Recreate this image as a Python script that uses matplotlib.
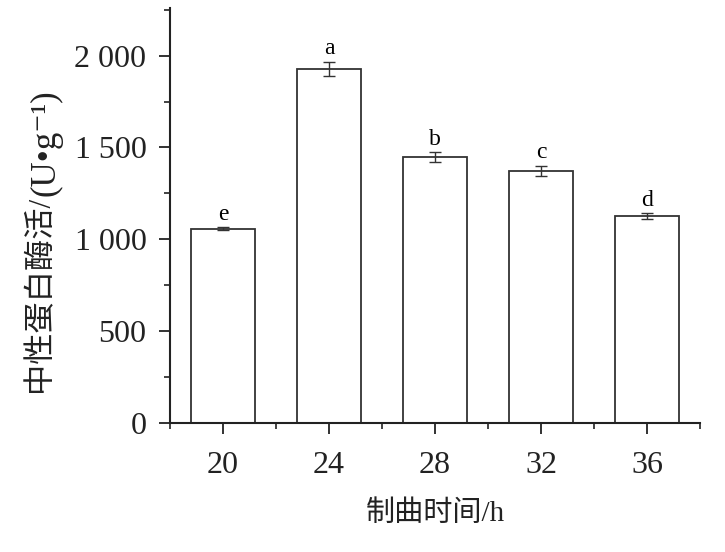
import matplotlib
matplotlib.use("Agg")
import matplotlib.pyplot as plt
from matplotlib.ticker import MultipleLocator, FuncFormatter

# data
hours = [20, 24, 28, 32, 36]
activity = [1058, 1928, 1449, 1373, 1127]
errors = [9, 40, 26, 28, 16]
letters = ["e", "a", "b", "c", "d"]

serif = ["Liberation Serif", "Noto Sans CJK SC", "DejaVu Sans"]
plt.rcParams["font.family"] = serif

fig = plt.figure(figsize=(7.25, 5.52), dpi=100)
ax = fig.add_axes([0.2345, 0.2337, 0.731, 0.752])

ax.bar(hours, activity, width=2.4, color="white", edgecolor="#333333",
       linewidth=1.3, zorder=2)
ax.errorbar(hours, activity, yerr=errors, fmt="none", ecolor="#333333",
            elinewidth=1.0, capsize=4, capthick=1.0, zorder=3)

for x, y, e, lab in zip(hours, activity, errors, letters):
    ax.text(x, y + e + 12, lab, ha="center", va="bottom", fontsize=17,
            family=serif)

ax.set_xlim(18, 38)
ax.set_ylim(0, 2260)
ax.set_xticks(hours)
ax.xaxis.set_minor_locator(MultipleLocator(2))
ax.yaxis.set_major_locator(MultipleLocator(500))
ax.yaxis.set_minor_locator(MultipleLocator(250))


def fmt(v, pos):
    v = int(round(v))
    return f"{v:,}".replace(",", " ")


ax.yaxis.set_major_formatter(FuncFormatter(fmt))

for side in ["top", "right"]:
    ax.spines[side].set_visible(False)
for side in ["left", "bottom"]:
    ax.spines[side].set_linewidth(1.5)
    ax.spines[side].set_color("#222222")

ax.tick_params(axis="both", which="major", direction="out", length=8,
               width=1.3, labelsize=23, colors="#222222", pad=9)
ax.tick_params(axis="both", which="minor", direction="out", length=4,
               width=1.2, colors="#222222")
ax.tick_params(axis="x", which="major", pad=12)

ax.set_xlabel("制曲时间/h", fontsize=21, labelpad=15, family=serif,
              color="#222222")

# y label: Chinese part and unit part at different sizes, stacked upward
fig.canvas.draw()
t1 = fig.text(40 / 725, 1 - 392 / 552, "中性蛋白酶活/", rotation=90,
              ha="center", va="bottom", fontsize=22.5, family=serif,
              color="#222222")
fig.canvas.draw()
bb = t1.get_window_extent()
t2 = fig.text(46 / 725, bb.y1 / fig.bbox.height, "(U•g⁻¹)", rotation=90,
              ha="center", va="bottom", fontsize=25, family=serif,
              color="#222222")

fig.savefig("out.png", dpi=100)
